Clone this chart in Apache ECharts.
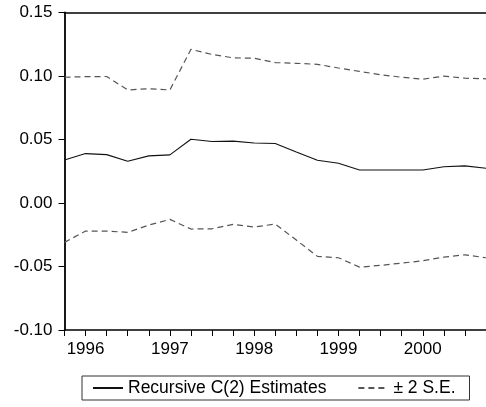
<!DOCTYPE html>
<html>
<head>
<meta charset="utf-8">
<script src="https://cdn.jsdelivr.net/npm/echarts@6/dist/echarts.min.js"></script>
<style>
  html, body { margin: 0; padding: 0; background: #fff; }
  #chart { width: 486px; height: 407px; }
</style>
</head>
<body>
<div id="chart"></div>
<script>
// Quarterly observations, 1995Q4 to 2000Q4
const quarters = [
  '1995Q4',
  '1996Q1', '1996Q2', '1996Q3', '1996Q4',
  '1997Q1', '1997Q2', '1997Q3', '1997Q4',
  '1998Q1', '1998Q2', '1998Q3', '1998Q4',
  '1999Q1', '1999Q2', '1999Q3', '1999Q4',
  '2000Q1', '2000Q2', '2000Q3', '2000Q4'
];

// Recursive coefficient estimates of C(2)
const estimate = [0.0339, 0.0389, 0.0381, 0.0329, 0.0371, 0.0379, 0.0502, 0.0484, 0.0487, 0.0473, 0.0468,
                  0.0401, 0.0337, 0.0313, 0.0260, 0.0260, 0.0260, 0.0260, 0.0286, 0.0292, 0.0274];
// Upper and lower two-standard-error bands
const upperBand = [0.0990, 0.0995, 0.0996, 0.0890, 0.0900, 0.0890, 0.1210, 0.1170, 0.1143, 0.1140, 0.1106,
                   0.1100, 0.1092, 0.1063, 0.1036, 0.1010, 0.0990, 0.0975, 0.0999, 0.0983, 0.0978];
const lowerBand = [-0.0310, -0.0221, -0.0221, -0.0231, -0.0174, -0.0129, -0.0205, -0.0203, -0.0168, -0.0189, -0.0166,
                   -0.0292, -0.0420, -0.0431, -0.0505, -0.0491, -0.0473, -0.0455, -0.0426, -0.0408, -0.0431];

// Value axis range and step
const yMin = -0.10, yMax = 0.15, yStep = 0.05;

const seriesNames = ['Recursive C(2) Estimates', '\u00b1 2 S.E.'];

const font = '"Liberation Sans", Arial, sans-serif';
const chart = echarts.init(document.getElementById('chart'), null, { renderer: 'canvas' });

const bandStyle = { color: '#555', width: 1.2, type: [6, 4] };

chart.setOption({
  animation: false,
  backgroundColor: '#fff',
  grid: { left: 64.5, right: 0, top: 12.5, bottom: 77, containLabel: false },
  legend: {
    data: seriesNames,
    left: 82,
    top: 376,
    orient: 'horizontal',
    itemWidth: 30,
    itemHeight: 10,
    itemGap: 31,
    padding: [3, 14, 3, 10],
    borderColor: '#333',
    borderWidth: 1,
    selectedMode: false,
    itemStyle: { color: 'rgba(0,0,0,0)', borderColor: 'rgba(0,0,0,0)', borderWidth: 0 },
    textStyle: { fontFamily: font, fontSize: 17.5, color: '#000', lineHeight: 18 }
  },
  xAxis: [{
    type: 'category',
    data: quarters,
    boundaryGap: false,
    position: 'bottom',
    axisLine: { show: true, onZero: false, lineStyle: { color: '#000', width: 1.5 } },
    axisTick: { show: true, inside: false, length: 6, interval: 0, lineStyle: { color: '#000', width: 1 } },
    axisLabel: {
      interval: (i, v) => v.endsWith('Q1'),
      formatter: v => v.slice(0, 4),
      fontFamily: font, fontSize: 17, color: '#000', margin: 11
    },
    splitLine: { show: false }
  }, {
    type: 'category',
    data: quarters,
    boundaryGap: false,
    position: 'top',
    axisLine: { show: true, onZero: false, lineStyle: { color: '#000', width: 1.5 } },
    axisTick: { show: false },
    axisLabel: { show: false },
    splitLine: { show: false }
  }],
  yAxis: {
    type: 'value',
    min: yMin,
    max: yMax,
    interval: yStep,
    axisLine: { show: true, onZero: false, lineStyle: { color: '#000', width: 1.8 } },
    axisTick: { show: true, inside: false, length: 6, lineStyle: { color: '#000', width: 1 } },
    axisLabel: {
      formatter: v => v.toFixed(2),
      fontFamily: font, fontSize: 17, color: '#000', margin: 12
    },
    splitLine: { show: false }
  },
  series: [{
    name: seriesNames[0],
    type: 'line',
    data: estimate,
    symbol: 'none',
    itemStyle: { color: '#111' },
    lineStyle: { color: '#111', width: 1.1 }
  }, {
    name: seriesNames[1],
    type: 'line',
    data: upperBand,
    symbol: 'none',
    itemStyle: { color: '#555' },
    lineStyle: bandStyle
  }, {
    name: seriesNames[1],
    type: 'line',
    data: lowerBand,
    symbol: 'none',
    itemStyle: { color: '#555' },
    lineStyle: bandStyle
  }]
});
</script>
</body>
</html>
